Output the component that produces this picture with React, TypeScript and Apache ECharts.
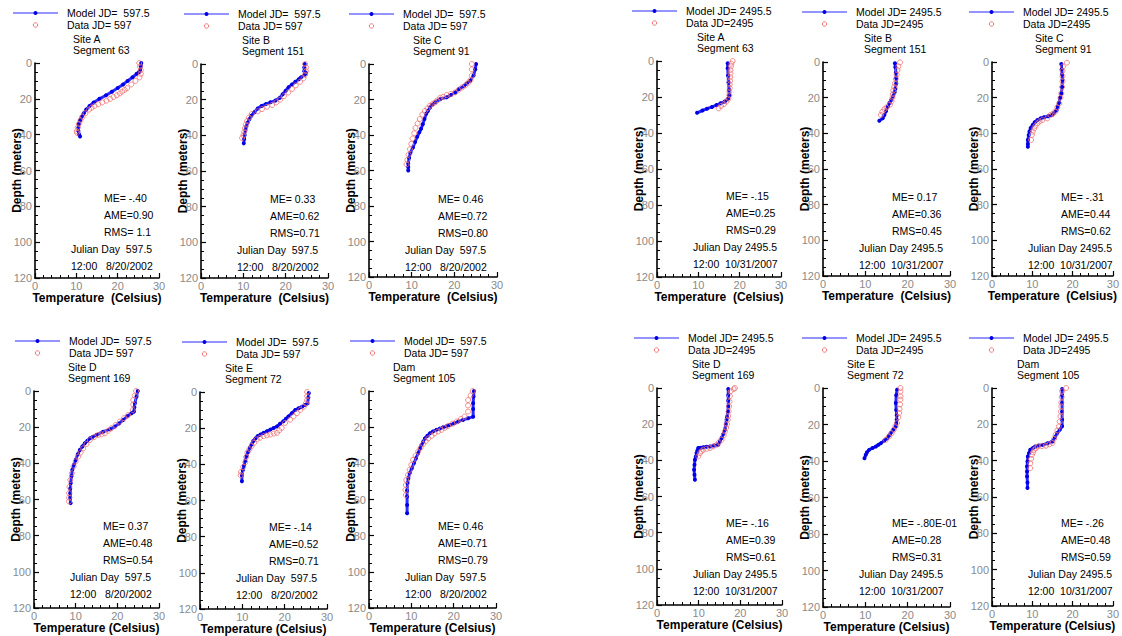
import React, { useEffect, useRef } from "react";
import * as echarts from "echarts";

// ---------- data: [temperature (C), depth (m)] ----------
// Julian Day 597.5 (8/20/2002)
const modelA597 = [[25.7,0],[25.6,2],[25.4,4],[25.2,5],[24.6,6],[23.6,8],[22.4,10],[21.3,12],[20.0,14],[18.6,16],[17.2,18],[15.6,20],[14.2,22],[13.2,24],[12.4,26],[11.8,28],[11.3,30],[10.9,32],[10.6,34],[10.5,36],[10.5,38],[10.7,40],[10.9,41]];
const dataA597 = [[25.2,0],[25.4,2],[25.6,4],[25.6,6],[25.3,8],[24.3,10],[23.3,12],[22.3,14],[21.7,15],[21.1,16],[20.5,17],[19.8,18],[19.0,19],[18.2,20],[17.3,21],[16.3,22],[15.3,23],[14.4,24],[13.7,25],[13.1,26],[12.2,28],[11.5,30],[11.0,32],[10.6,34],[10.3,36],[10.1,38],[10.2,39]];
const modelB597 = [[24.5,0],[24.4,2],[24.4,4],[24.8,5],[24.5,6],[23.6,7.5],[23.1,8.5],[22.3,10],[21.5,11.5],[20.7,13],[20.0,15],[19.3,17],[18.6,19],[17.6,20.5],[16.4,21.5],[15.3,22.5],[14.3,23.5],[13.4,25],[12.6,27],[11.9,29],[11.4,31],[11.0,33],[10.7,35],[10.5,37],[10.3,40],[10.2,42],[10.1,44.5]];
const dataB597 = [[24.6,0],[24.8,2],[24.8,4],[24.6,6],[24.2,8],[23.4,10],[22.4,12],[21.5,14],[20.6,16],[19.6,18],[18.7,20],[17.8,21.5],[16.8,23],[15.6,24],[14.4,25.3],[13.4,26.5],[12.0,28],[11.3,30],[10.9,32],[10.6,34],[10.4,36],[10.2,38],[10.0,40],[9.7,41.5]];
const modelC597 = [[25.1,0],[24.9,3],[24.5,6.5],[23.7,9.5],[22.9,11],[22.2,12.5],[21.2,14],[20.2,16],[19.2,17.5],[18.2,18.8],[16.7,19.8],[15.5,21.5],[14.8,23],[14.3,24.5],[13.8,26.5],[13.4,28],[13.0,31],[12.6,34],[12.2,36.5],[11.8,38.5],[11.3,41],[10.8,44],[10.3,47],[9.7,50],[9.4,53],[9.2,56],[9.2,58],[9.2,60]];
const dataC597 = [[24.1,0],[24.1,3],[24.1,6.5],[23.8,9],[23.3,10.5],[22.6,12],[21.8,13.2],[21.0,14.5],[20.2,16],[19.2,16.8],[18.2,17.5],[17.4,18.5],[16.7,19],[16.0,20.5],[15.5,21.7],[14.9,22.5],[14.3,23.5],[13.7,25],[13.1,26.5],[12.5,28.5],[11.9,31],[11.4,33.5],[10.9,36],[10.6,39],[10.2,42],[9.9,45],[9.6,48],[9.3,51],[9.0,54],[8.8,56.5]];
const modelD597 = [[24.9,0],[24.6,3],[24.2,6.8],[24.1,9],[24.0,11.4],[23.4,12.3],[22.4,14],[21.4,16],[20.4,18],[19.4,19.7],[18.2,21.2],[16.6,22.5],[15.0,24.3],[14.0,25.5],[13.4,26.2],[12.8,27.5],[12.2,28.9],[11.6,30.7],[11.0,32.6],[10.5,35],[10.0,38.1],[9.6,40.8],[9.2,43.6],[9.0,47],[8.8,51],[8.7,54],[8.7,56.5],[8.7,59],[8.8,62]];
const dataD597 = [[24.5,0],[24.2,2.5],[23.8,5],[23.8,7.5],[23.7,10.5],[22.6,13.3],[21.6,15],[20.6,16.9],[19.6,18.8],[18.6,20.6],[17.8,22],[17.0,23.4],[16.2,24],[15.4,24.3],[14.4,25.5],[13.4,27.1],[12.6,29.3],[11.8,31.7],[11.2,34],[10.6,36.3],[10.0,39],[9.5,41.8],[9.1,45.5],[8.7,49.2],[8.5,53],[8.4,56.5],[8.4,59],[8.4,61.1]];
const modelE597 = [[25.7,0.5],[25.6,3],[25.4,6.3],[24.8,7.2],[24.1,8.1],[23.3,9],[22.5,9.9],[21.7,11.7],[20.9,13.5],[20.3,14.8],[19.7,16.2],[18.9,17.6],[18.2,19],[17.4,19.9],[16.6,20.8],[15.8,21.7],[15.0,22.6],[14.3,23.5],[13.6,24.4],[13.1,25.7],[12.6,27.1],[12.2,28.9],[11.8,30.7],[11.4,33],[11.0,35.2],[10.7,38],[10.4,40.6],[10.1,43.3],[9.9,46],[9.9,49.3]];
const dataE597 = [[25.3,0],[25.3,2.3],[25.3,4.5],[25.0,6.3],[24.5,8.1],[23.7,9.9],[22.9,11.7],[22.1,13.5],[21.3,15.3],[20.1,17.1],[19.3,19.9],[18.7,21.2],[18.2,22.6],[17.4,23],[16.6,23.5],[15.8,24],[15.0,24.4],[14.2,25.3],[13.4,26.2],[12.8,28],[12.2,29.8],[11.7,31.6],[11.2,33.4],[10.9,36],[10.7,38.8],[10.2,41.5],[9.7,44.2],[9.6,46]];
const modelDam597 = [[24.8,0],[24.7,3],[24.6,6.8],[24.6,10],[24.6,14.2],[23.4,15.1],[22.2,16],[21.1,16.9],[20.1,17.9],[19.1,18.8],[18.3,19.5],[17.5,20.1],[16.7,20.8],[15.9,21.5],[15.1,22.4],[14.4,23.4],[13.8,24.8],[13.2,26.2],[12.8,28],[12.4,29.8],[12.0,32],[11.6,34.4],[11.1,37.2],[10.6,40],[10.1,42.8],[9.6,45.5],[9.3,48.3],[9.1,51],[9.0,55],[9.0,58.4],[9.0,63],[9.0,67.6]];
const dataDam597 = [[24.5,0],[24.0,2.5],[23.4,5],[23.4,8],[23.4,11.4],[22.6,14.2],[21.7,15.5],[20.7,16.9],[19.7,18.1],[18.7,19.3],[17.9,20.4],[17.1,21.5],[16.3,22.4],[15.5,23.4],[14.8,24.8],[14.0,26.2],[13.4,27.7],[12.8,29.3],[12.2,31.4],[11.6,33.5],[11.0,35.8],[10.4,38.1],[10.0,40.8],[9.6,43.6],[9.2,46.4],[8.8,49.2],[8.7,52],[8.6,54.7],[8.7,57.5]];

// Julian Day 2495.5 (10/31/2007)
const modelA2495 = [[17.1,1.3],[17.1,4],[17.2,8],[17.3,12],[17.4,16],[17.5,19],[17.2,21],[16.4,22.5],[15.4,23.5],[14.4,24.5],[13.3,25.5],[12.1,26.5],[11.0,27.5],[9.7,28.8]];
const dataA2495 = [[18.3,0],[18.0,1.5],[17.9,3],[17.8,5],[17.8,7],[17.7,9],[17.7,11],[17.6,13],[17.6,15],[17.5,17],[17.5,19],[17.3,21],[16.8,22.5],[16.2,24],[15.5,25],[14.9,26.3]];
const modelB2495 = [[17.0,0.7],[17.1,3],[17.2,6],[17.3,9],[17.3,12],[17.1,15],[16.9,17],[16.6,19],[16.1,21.3],[15.7,23],[15.3,25],[14.9,27.5],[14.5,29.7],[14.1,31.6],[13.3,33]];
const dataB2495 = [[18.2,0.2],[17.8,2.5],[17.6,4.5],[17.4,7],[17.2,9.5],[17.0,12],[16.8,14],[16.6,16],[16.5,18],[16.4,20],[16.2,22],[15.8,24],[15.0,25.5],[14.5,26.5],[14.0,28],[13.7,29.7]];
const modelC2495 = [[17.2,1.1],[17.3,4],[17.4,7],[17.5,10],[17.4,14],[17.2,17.6],[16.9,20],[16.6,23],[16.3,25],[16.0,27],[15.4,28.5],[14.9,29.7],[13.9,30.4],[12.9,31],[12.1,31.6],[11.3,32.5],[10.6,33.8],[10.1,35.3],[9.6,37],[9.3,39],[9.1,41],[8.9,43.7],[8.9,46],[8.9,47.5]];
const dataC2495 = [[18.6,0.4],[17.6,2.6],[17.5,5],[17.5,8],[17.5,11],[17.4,14],[17.2,17.6],[17.0,20],[16.7,23.2],[16.2,25.5],[15.7,27.9],[15.1,29],[14.5,29.7],[13.7,31.6],[12.5,32.5],[11.8,33.3],[11.3,34.4],[10.8,35.8],[10.5,37.2],[10.1,39],[9.9,40.9],[9.7,43.7]];
const modelD2495 = [[17.1,0.6],[17.1,4],[17.1,7],[17.1,10.1],[17.0,13],[16.8,16],[16.7,17.5],[16.5,20],[16.3,23.1],[15.9,25.5],[15.5,27.7],[15.1,29.5],[14.7,31.4],[13.7,31.8],[12.7,32.3],[11.9,32.5],[11.1,32.8],[10.5,33],[9.9,33.2],[9.7,34.5],[9.5,36],[9.3,38],[9.1,39.7],[9.0,42.5],[8.9,45.2],[9.0,48],[9.1,50.7]];
const dataD2495 = [[18.7,0],[18.4,0.6],[17.7,1.8],[17.5,4.5],[17.4,7.5],[17.3,10.1],[17.2,13],[17.1,15.5],[17.0,17.5],[16.8,20],[16.6,22],[16.3,24],[16.0,26.2],[15.5,28.6],[14.9,30],[14.3,31.4],[13.5,32.3],[12.7,33.2],[11.9,33.6],[11.1,34.1],[10.7,35],[10.3,36],[9.9,37.8]];
const modelE2495 = [[17.5,0.9],[17.3,4],[17.2,8.2],[17.3,12],[17.4,15],[17.4,17.4],[17.3,19.5],[17.2,21.1],[16.6,22.9],[16.0,24.7],[15.6,26],[15.2,27.5],[14.5,28.8],[13.7,30.2],[13.1,31.1],[12.5,32],[11.7,32.9],[10.9,33.9],[10.4,35.2],[10.1,36.6],[9.8,38.5]];
const dataE2495 = [[18.3,0],[18.3,2],[18.3,4.5],[18.3,6.4],[18.2,9],[18.1,11.5],[18.0,13.7],[17.8,16],[17.5,19.2],[17.1,21],[16.7,22.9],[16.2,24.8],[15.6,26.6],[14.8,28.4]];
const modelDam2495 = [[17.4,0.6],[17.4,4],[17.4,8.3],[17.4,13],[17.4,17.5],[17.4,21.1],[16.8,23],[16.2,24.8],[15.6,27.1],[15.0,29.4],[13.8,30.4],[12.6,31.3],[11.6,31.7],[10.7,32.2],[10.1,33.1],[9.5,34],[9.2,35.8],[8.9,37.7],[8.8,40.5],[8.7,43.2],[8.7,46],[8.7,48.7],[8.8,52],[8.8,55.1]];
const dataDam2495 = [[18.4,0],[17.4,1.8],[17.3,5],[17.2,8],[17.2,10.1],[17.1,13],[17.0,15.6],[16.8,18.5],[16.6,21.1],[16.2,23.4],[15.8,25.7],[15.4,28],[15.0,30.3],[14.2,31],[13.4,31.8],[12.4,32],[11.4,32.2],[10.9,33.1],[10.5,34],[10.2,35.4],[9.9,36.8],[9.7,39],[9.5,41.4],[9.5,44.1]];

// ---------- texts ----------
const siteLabels = ["Site A", "Site B", "Site C", "Site A", "Site B", "Site C", "Site D", "Site E", "Dam", "Site D", "Site E", "Dam"];
const segmentLabels = ["Segment 63", "Segment 151", "Segment 91", "Segment 63", "Segment 151", "Segment 91", "Segment 169", "Segment 72", "Segment 105", "Segment 169", "Segment 72", "Segment 105"];
const meLabels = ["ME= -.40", "ME= 0.33", "ME= 0.46", "ME= -.15", "ME= 0.17", "ME= -.31", "ME= 0.37", "ME= -.14", "ME= 0.46", "ME= -.16", "ME= -.80E-01", "ME= -.26"];
const ameLabels = ["AME=0.90", "AME=0.62", "AME=0.72", "AME=0.25", "AME=0.36", "AME=0.44", "AME=0.48", "AME=0.52", "AME=0.71", "AME=0.39", "AME=0.28", "AME=0.48"];
const rmsLabels = ["RMS= 1.1", "RMS=0.71", "RMS=0.80", "RMS=0.29", "RMS=0.45", "RMS=0.62", "RMS=0.54", "RMS=0.71", "RMS=0.79", "RMS=0.61", "RMS=0.31", "RMS=0.59"];
const dayGroups = [0, 0, 0, 1, 1, 1, 0, 0, 0, 1, 1, 1];
const modelLegend = ["Model JD=  597.5", "Model JD= 2495.5"];
const dataLegend = ["Data JD= 597", "Data JD=2495"];
const julianLabels = ["Julian Day  597.5", "Julian Day 2495.5"];
const dateLabels = ["12:00   8/20/2002", "12:00  10/31/2007"];
const xAxisNames = ["Temperature  (Celsius)", "Temperature (Celsius)"];
const yAxisName = "Depth (meters)";

const models = [modelA597, modelB597, modelC597, modelA2495, modelB2495, modelC2495, modelD597, modelE597, modelDam597, modelD2495, modelE2495, modelDam2495];
const datas = [dataA597, dataB597, dataC597, dataA2495, dataB2495, dataC2495, dataD597, dataE597, dataDam597, dataD2495, dataE2495, dataDam2495];

// ---------- layout (pixels) ----------
const gridLeft = [35, 201, 369, 657, 823, 992, 34, 200, 369, 657, 823, 992];
const gridTop = [63, 64, 64, 61, 62, 62, 391, 392, 391, 388, 388, 388];
const gridW = [124, 127, 128, 124, 127, 127, 125, 127, 127, 125, 127, 126];
const gridH = [215, 214, 213, 216, 214, 214, 217, 220, 217, 217, 219, 218];
const legendTextOff = [32, 37, 34, 29, 33, 31, 35, 36, 35, 31, 33, 31];
const siteOff = [38, 41, 44, 40, 41, 43, 34, 25, 24, 35, 24, 25];

const FONT = 'Arial, "Liberation Sans", sans-serif';

function txt(x: number, y: number, text: string, extra: any = {}) {
  return {
    type: "text",
    x,
    y,
    silent: true,
    style: {
      text,
      fill: "#000",
      font: `${extra.fontWeight || "normal"} ${extra.fontSize || 10.5}px ${FONT}`,
      fontSize: extra.fontSize || 10.5,
      fontFamily: FONT,
      textAlign: extra.align || "left",
      textVerticalAlign: "middle",
      align: extra.align || "left",
      verticalAlign: "middle",
    },
  };
}

function buildOption() {
  const grid: any[] = [];
  const xAxis: any[] = [];
  const yAxis: any[] = [];
  const series: any[] = [];
  const graphic: any[] = [];

  for (let i = 0; i < 12; i++) {
    const g = dayGroups[i];
    const L = gridLeft[i];
    const T = gridTop[i];
    grid.push({ left: L, top: T, width: gridW[i], height: gridH[i] });
    const axisLine = { show: true, onZero: false, lineStyle: { color: "#000", width: 1.6 } };
    xAxis.push({
      gridIndex: i,
      type: "value",
      min: 0,
      max: 30,
      interval: 10,
      axisLine,
      axisTick: { show: true, inside: true, length: 5, lineStyle: { color: "#000", width: 1.2 } },
      minorTick: { show: true, splitNumber: 5, length: 3, lineStyle: { color: "#000", width: 1 } },
      splitLine: { show: false },
      axisLabel: { color: "#8a8a8a", fontSize: 11, fontFamily: FONT, margin: 2 },
      name: xAxisNames[i < 6 ? 0 : 1],
      nameLocation: "middle",
      nameGap: 14,
      nameMoveOverlap: false,
      nameTextStyle: { color: "#000", fontWeight: "bold", fontSize: 12, fontFamily: FONT, verticalAlign: "top" },
    });
    yAxis.push({
      gridIndex: i,
      type: "value",
      inverse: true,
      min: 0,
      max: 120,
      interval: 20,
      axisLine,
      axisTick: { show: true, inside: true, length: 5, lineStyle: { color: "#000", width: 1.2 } },
      minorTick: { show: true, splitNumber: 4, length: 3, lineStyle: { color: "#000", width: 1 } },
      splitLine: { show: false },
      axisLabel: { color: "#8a8a8a", fontSize: 11, fontFamily: FONT, margin: 3 },
      name: yAxisName,
      nameLocation: "middle",
      nameGap: 12,
      nameMoveOverlap: false,
      nameTextStyle: { color: "#000", fontWeight: "bold", fontSize: 12, fontFamily: FONT },
    });
    series.push({
      type: "line",
      name: modelLegend[g],
      xAxisIndex: i,
      yAxisIndex: i,
      data: models[i],
      symbol: "circle",
      symbolSize: 4,
      showSymbol: true,
      lineStyle: { color: "#2b2bff", width: 3 },
      itemStyle: { color: "#0000e6" },
      z: 2,
    });
    series.push({
      type: "scatter",
      name: dataLegend[g],
      xAxisIndex: i,
      yAxisIndex: i,
      data: datas[i],
      symbol: "circle",
      symbolSize: 5,
      itemStyle: { color: "rgba(255,255,255,0)", borderColor: "#f07272", borderWidth: 1 },
      z: 3,
    });

    // legend
    const tx = L + legendTextOff[i];
    const ly = T - 50;
    const dy = T - 38;
    const cx = tx - 31.5;
    graphic.push({ type: "line", silent: true, shape: { x1: tx - 54, y1: ly, x2: tx - 9, y2: ly }, style: { stroke: "#7070ff", lineWidth: 1.5 } });
    graphic.push({ type: "circle", silent: true, shape: { cx, cy: ly, r: 2 }, style: { fill: "#0000e6" } });
    graphic.push({ type: "circle", silent: true, shape: { cx, cy: dy, r: 2.2 }, style: { fill: "none", stroke: "#f07272", lineWidth: 1 } });
    graphic.push(txt(tx, ly, modelLegend[g]));
    graphic.push(txt(tx, dy, dataLegend[g]));
    // site / segment
    graphic.push(txt(L + siteOff[i], T - 24, siteLabels[i]));
    graphic.push(txt(L + siteOff[i], T - 13, segmentLabels[i]));
    // stats
    graphic.push(txt(L + 69, T + 135, meLabels[i]));
    graphic.push(txt(L + 69, T + 152, ameLabels[i]));
    graphic.push(txt(L + 69, T + 169, rmsLabels[i]));
    graphic.push(txt(L + 36, T + 186, julianLabels[g]));
    graphic.push(txt(L + 36, T + 203, dateLabels[g]));
  }

  return {
    animation: false,
    backgroundColor: "#ffffff",
    textStyle: { fontFamily: FONT },
    grid,
    xAxis,
    yAxis,
    series,
    graphic: { elements: graphic },
  };
}

export default function App() {
  const ref = useRef<HTMLDivElement>(null);
  useEffect(() => {
    if (!ref.current) return;
    const chart = echarts.init(ref.current, null, { renderer: "svg" });
    chart.setOption(buildOption() as any);
    return () => chart.dispose();
  }, []);
  return (
    <div
      ref={ref}
      style={{ position: "absolute", left: 0, top: 0, width: 1122, height: 636, background: "#fff" }}
    />
  );
}
